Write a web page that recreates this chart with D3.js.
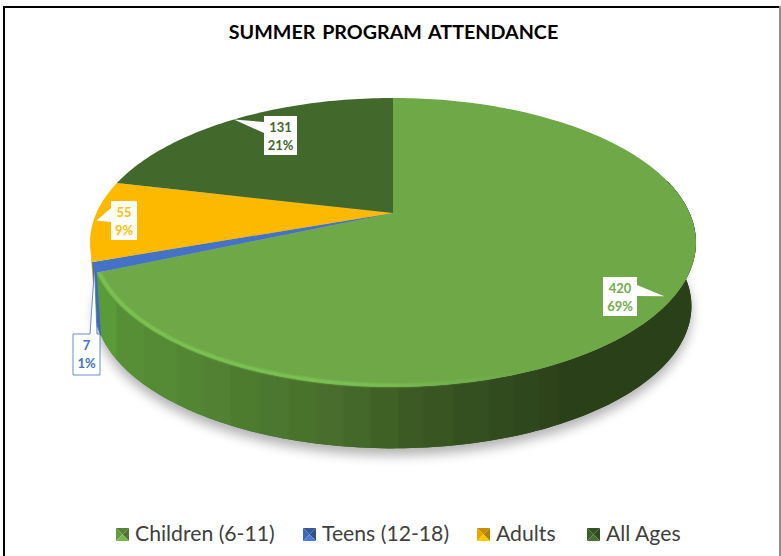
<!DOCTYPE html>
<html>
<head>
<meta charset="utf-8">
<style>
  body { margin: 0; background: #fff; }
  svg { display: block; font-family: Lato, sans-serif; }
</style>
<script src="https://cdn.jsdelivr.net/npm/d3@7"></script>
</head>
<body>
<svg id="chart" width="781" height="556"></svg>
<script>
const categories = ['Children (6-11)', 'Teens (12-18)', 'Adults', 'All Ages'];
const attendance = [420, 7, 55, 131];
const colors = ['#6EA847', '#4472C4', '#FDB800', '#43682B'];
const labelColors = ['#70AD47', '#4472C4', '#FFC000', '#43682B'];

const width = 781;
const height = 556;

// the pie is seen in perspective, so the apex sits above the middle of the ellipse
const apex = { x: 393, y: 213 };
const persp = { k: 0.204, a: 296.6, b: 138.5 };
const depth = { dy: 64, scale: 0.985 };

const svg = d3.select('#chart');
const defs = svg.append('defs');

const project = (angle, r = 1, bottom = false) => {
  const u = Math.sin(angle) * r;
  const v = -Math.cos(angle) * r;
  const w = 1 - persp.k * v;
  const s = bottom ? depth.scale : 1;
  return [
    apex.x + (persp.a * u * s) / w,
    apex.y + (bottom ? depth.dy : 0) + (persp.b * v * s) / w,
  ];
};

const arcs = d3.pie().sort(null)(attendance);
const line = d3.line();
const fullTurn = 2 * Math.PI;

const sample = (a0, a1, r, bottom) => {
  const n = Math.max(2, Math.ceil(Math.abs(a1 - a0) / 0.02));
  return d3.range(n + 1).map(i => project(a0 + ((a1 - a0) * i) / n, r, bottom));
};

const topPath = d => line([[apex.x, apex.y], ...sample(d.startAngle, d.endAngle)]) + 'Z';
const sidePath = (a0, a1) => line([...sample(a0, a1), ...sample(a1, a0, 1, true)]) + 'Z';

// wall shading comes in flat vertical bands, as in the original render
const bandStops = [
  [95, '#5B9A38'], [118, '#578F36'], [145, '#568B36'], [178, '#528632'], [205, '#528134'],
  [232, '#4D7C2F'], [262, '#4C7730'], [290, '#49722B'], [318, '#486D2C'], [345, '#43682A'],
  [372, '#3F6126'], [400, '#3B5A24'], [425, '#385522'], [455, '#355020'], [490, '#324B1E'],
  [515, '#2F471C'], [540, '#2E431A'], [560, '#2A4018'], [700, '#2A4018'],
];
const bandX = d3.scaleLinear().domain([95, 700]).range([0, 1]);
const sideGrad = defs.append('linearGradient')
  .attr('id', 'sideGrad')
  .attr('gradientUnits', 'userSpaceOnUse')
  .attr('x1', 95).attr('x2', 700).attr('y1', 0).attr('y2', 0);
bandStops.forEach((b, i) => {
  const next = bandStops[i + 1];
  sideGrad.append('stop').attr('offset', bandX(b[0])).attr('stop-color', b[1]);
  if (next) {
    sideGrad.append('stop').attr('offset', bandX(next[0] - 3)).attr('stop-color', b[1]);
  }
});

const rimGrad = defs.append('linearGradient')
  .attr('id', 'rimGrad')
  .attr('gradientUnits', 'userSpaceOnUse')
  .attr('x1', 100).attr('x2', 520).attr('y1', 0).attr('y2', 0);
[[0, '#80C856', 1], [0.6, '#80C856', 0.95], [1, '#80C856', 0]]
  .forEach(s => rimGrad.append('stop').attr('offset', s[0]).attr('stop-color', s[1]).attr('stop-opacity', s[2]));

defs.append('filter').attr('id', 'soft')
  .attr('x', '-10%').attr('y', '-10%').attr('width', '120%').attr('height', '130%')
  .append('feGaussianBlur').attr('stdDeviation', 6);
defs.append('filter').attr('id', 'softRim')
  .attr('x', '-5%').attr('y', '-5%').attr('width', '110%').attr('height', '110%')
  .append('feGaussianBlur').attr('stdDeviation', 0.8);

// frame
svg.append('rect').attr('width', width).attr('height', height).attr('fill', '#fff');
svg.append('rect').attr('x', 3).attr('y', 6).attr('width', 2).attr('height', height - 6).attr('fill', '#000');
svg.append('rect').attr('x', 3).attr('y', 6).attr('width', width - 3).attr('height', 2).attr('fill', '#000');
svg.append('rect').attr('x', 779).attr('y', 6).attr('width', 2).attr('height', height - 6).attr('fill', '#8c8c8c');

// title
svg.append('text')
  .attr('x', 393.5)
  .attr('y', 38.5)
  .attr('text-anchor', 'middle')
  .attr('font-size', 19.7)
  .attr('font-weight', 700)
  .attr('word-spacing', 2)
  .attr('fill', '#000')
  .text('SUMMER PROGRAM ATTENDANCE');

// shadow under the drum
svg.append('path')
  .attr('d', line([...sample(0, fullTurn, 1, true)]) + 'Z')
  .attr('fill', '#000')
  .attr('opacity', 0.3)
  .attr('filter', 'url(#soft)')
  .attr('transform', 'translate(0,7)');

// drum walls, the far ones first
const silhouette = Math.PI + Math.acos(persp.k);
const walls = svg.append('g');
walls.append('path')
  .attr('d', sidePath(Math.PI / 2 - 0.25, arcs[0].endAngle))
  .attr('fill', 'url(#sideGrad)');
walls.append('path')
  .attr('d', sidePath(arcs[2].startAngle, Math.max(silhouette, arcs[2].startAngle + 0.1)))
  .attr('fill', '#E0A400');
walls.append('path')
  .attr('d', sidePath(arcs[1].startAngle, arcs[1].endAngle))
  .attr('fill', '#3F69B5')
  .attr('stroke', '#3F69B5');
walls.append('path')
  .attr('d', sidePath(Math.PI / 2 - 0.25, arcs[0].endAngle))
  .attr('fill', 'url(#sideGrad)');

// top faces
svg.append('g')
  .selectAll('path')
  .data(arcs)
  .join('path')
  .attr('d', topPath)
  .attr('fill', (d, i) => colors[i]);

// lit shoulder along the front rim
svg.append('path')
  .attr('d', line(sample(arcs[0].endAngle - 0.005, Math.PI * 0.75, 0.992)))
  .attr('fill', 'none')
  .attr('stroke', 'url(#rimGrad)')
  .attr('stroke-width', 3)
  .attr('filter', 'url(#softRim)');

// data labels
const labelBoxes = [
  { x: 603, y: 277, w: 34, h: 39, tip: 0.975, base: [[637, 285], [637, 296]] },
  { x: 73, y: 334, w: 27, h: 41, tip: 1, base: [[90, 334], [97, 334]], border: true },
  { x: 111, y: 201, w: 26, h: 39, tip: 0.99, base: [[111, 208], [111, 222]] },
  { x: 264, y: 116, w: 33, h: 39, tip: 1, base: [[264, 122], [264, 133]] },
];
const pct = d3.format('.0%');
const total = d3.sum(attendance);

const labels = svg.append('g')
  .selectAll('g')
  .data(arcs)
  .join('g');

labels.each(function (d, i) {
  const box = labelBoxes[i];
  const g = d3.select(this);
  const tip = project((d.startAngle + d.endAngle) / 2, box.tip);
  if (box.border) {
    g.append('path')
      .attr('d', line([
        [box.x, box.y], box.base[0], tip, box.base[1], [box.x + box.w, box.y],
        [box.x + box.w, box.y + box.h], [box.x, box.y + box.h],
      ]) + 'Z')
      .attr('fill', '#fff')
      .attr('stroke', labelColors[i])
      .attr('stroke-opacity', 0.8);
  } else {
    g.append('rect')
      .attr('x', box.x).attr('y', box.y)
      .attr('width', box.w).attr('height', box.h)
      .attr('fill', '#fff');
    g.append('path')
      .attr('d', line([box.base[0], tip, box.base[1]]) + 'Z')
      .attr('fill', '#fff');
  }
  const cx = box.x + box.w / 2;
  g.append('text')
    .attr('x', cx)
    .attr('y', box.y + 16)
    .attr('text-anchor', 'middle')
    .attr('font-size', 13)
    .attr('font-weight', 700)
    .attr('fill', labelColors[i])
    .text(attendance[i]);
  g.append('text')
    .attr('x', cx)
    .attr('y', box.y + 34)
    .attr('text-anchor', 'middle')
    .attr('font-size', 13)
    .attr('font-weight', 700)
    .attr('fill', labelColors[i])
    .text(pct(attendance[i] / total));
});

// legend
const legendX = d3.scaleOrdinal().domain(categories).range([116, 303, 477, 587]);
const markerSize = 13;
const legendY = 528;

const legend = svg.append('g')
  .selectAll('g')
  .data(categories)
  .join('g')
  .attr('transform', d => `translate(${legendX(d)},${legendY})`);

// small bevelled squares, like the ones the chart tool draws
const s = markerSize;
const facets = [
  { pts: [[0, 0], [s, 0], [s / 2, s / 2]], shade: c => d3.color(c).darker(0.7) },
  { pts: [[0, 0], [s / 2, s / 2], [0, s]], shade: c => d3.color(c).darker(0.25) },
  { pts: [[s, 0], [s, s], [s / 2, s / 2]], shade: c => d3.color(c).darker(1) },
  { pts: [[0, s], [s / 2, s / 2], [s, s]], shade: c => d3.color(c).brighter(0.25) },
];

legend.each(function (d, i) {
  const g = d3.select(this);
  facets.forEach((f) => {
    g.append('path').attr('d', line(f.pts) + 'Z').attr('fill', f.shade(colors[i]));
  });
  g.append('text')
    .attr('x', 19)
    .attr('y', 13)
    .attr('font-size', 21.2)
    .attr('fill', '#404040')
    .text(d);
});
</script>
</body>
</html>
